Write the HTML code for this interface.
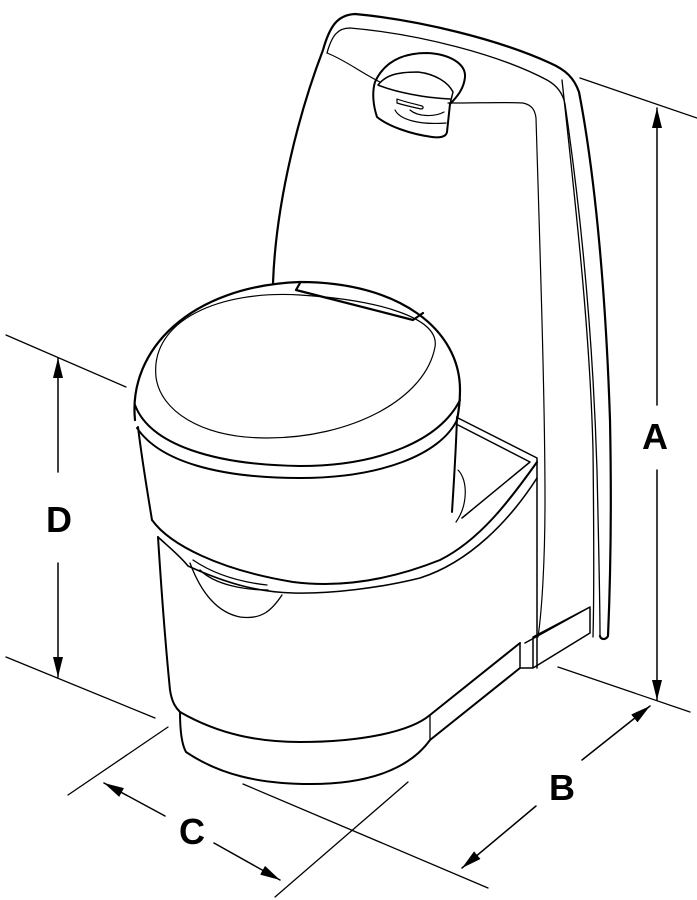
<!DOCTYPE html>
<html><head><meta charset="utf-8"><style>
html,body{margin:0;padding:0;background:#fff;}
svg{display:block;}
text{font-family:"Liberation Sans",sans-serif;font-weight:bold;font-size:36px;fill:#000;}
</style></head><body>
<svg width="697" height="900" viewBox="0 0 697 900" xmlns="http://www.w3.org/2000/svg">
<defs>
<marker id="ah" viewBox="0 0 20 10" refX="20" refY="5" markerWidth="20" markerHeight="10" markerUnits="userSpaceOnUse" orient="auto"><path d="M0,0 L20,5 L0,10 z" fill="#000"/></marker>
</defs>
<g fill="none" stroke="#000" stroke-linecap="round" stroke-linejoin="round">
<path d="M273,283 C276,200 300,110 323,50 C330,25 338,15 355,14 C420,20 500,40 550,63 C566,70 574,78 579,92 C596,180 606,300 610,420 C612,520 610,590 608,636 C606,640 601,640 600,636" stroke-width="2.2"/>
<path d="M327,53 C332,35 338,28 350,28 C420,34 500,55 547,80 C558,86 563,94 565,104 C582,220 593,340 597,470 C599,560 600,600 600,636" stroke-width="1.3"/>
<path d="M562,80 C575,200 590,330 593,450 C594,540 594,600 593,637" stroke-width="1.3"/>
<path d="M327,53 C345,60 360,72 380,82 M448,103 C480,103 505,102 523,103 C532,105 535,110 536,118 C540,250 545,400 545,500 C545,560 542,610 538,637" stroke-width="1.2"/>
<path d="M375,82 C385,60 405,53 427,53 C450,54 466,64 465,77 C464,88 458,96 450,104 L447,132 C446,137 440,138 432,137 C410,134 388,126 377,117 C373,105 372,92 375,82 z" stroke-width="2"/>
<path d="M378,85 C385,76 395,72 418,72 C435,74 448,82 453,92 L450,104 M378,85 C395,92 425,98 450,99" stroke-width="1.5"/>
<path d="M397,99 C405,102 415,104 422,106 C424,107 423,109 421,109 C412,107 403,105 397,103 z" stroke-width="1.2"/>
<path d="M395,110 C400,120 420,125 446,123 M410,110 C418,117 435,117 444,112" stroke-width="1.2"/>
<path d="M458,418 L537,458 L537,668 M458,425 L530,462 L462,518" stroke-width="1.5"/>
<path d="M458,470 C468,480 468,505 456,522" stroke-width="1.2"/>
<path d="M520,643 L520,668 L533,668 L533,637 L590,607 L590,633 L533,668 M525,643 L590,607" stroke-width="1.5"/>
<path d="M158,537 C162,600 166,650 170,690 C172,703 176,708 180,712 C220,735 260,742 300,742 C360,742 410,732 430,715 L520,643" stroke-width="2"/>
<path d="M180,712 C180,730 182,745 186,752 C220,775 260,784 311,784 C370,784 410,768 430,740 L520,668" stroke-width="2"/>
<path d="M430,715 L430,740" stroke-width="1.3"/>
<path d="M152,520 C170,545 220,570 293,582 C340,588 390,580 440,560 C480,540 510,500 537,462" stroke-width="2"/>
<path d="M158,537 C170,548 180,556 188,566 C230,585 260,592 293,593 C330,594 380,588 420,578 C470,562 510,520 537,478" stroke-width="1.6"/>
<path d="M190,563 C200,590 215,612 240,617 C262,620 272,610 282,595 M193,560 C215,575 240,582 267,585 M200,570 C215,585 245,590 268,590" stroke-width="1.3"/>
<path d="M138,427 C142,460 147,490 152,520 M457,417 C456,450 454,480 452,512" stroke-width="2"/>
<path d="M135,420 C128,350 190,286 300,282 C400,282 460,330 460,390 C460,405 458,415 457,420" stroke-width="2.2"/>
<path d="M135,405 C150,445 215,465 300,466 C380,466 440,440 460,400" stroke-width="2"/>
<path d="M137,428 C160,462 220,478 300,478 C380,478 440,455 457,420" stroke-width="2"/>
<path d="M156,377 C150,320 220,290 300,295 C380,300 440,318 435,347 C425,400 350,438 267,438 C200,438 160,410 156,377 z" stroke-width="1.2"/>
<path d="M300,283 L296,290 L413,320 L423,313" stroke-width="2.2"/>
<g stroke-width="1.3">
<line x1="580" y1="78" x2="697" y2="118"/>
<line x1="558" y1="667" x2="690" y2="712"/>
<line x1="6" y1="335" x2="126" y2="387"/>
<line x1="6" y1="657" x2="155" y2="718"/>
<line x1="168" y1="727" x2="68" y2="795"/>
<line x1="243" y1="784" x2="488" y2="888"/>
<line x1="408" y1="782" x2="275" y2="897"/>
</g>
<g stroke-width="1.5">
<line x1="657" y1="405" x2="657" y2="108" marker-end="url(#ah)"/>
<line x1="657" y1="470" x2="657" y2="700" marker-end="url(#ah)"/>
<line x1="58" y1="472" x2="58" y2="358" marker-end="url(#ah)"/>
<line x1="58" y1="563" x2="58" y2="677" marker-end="url(#ah)"/>
<line x1="165" y1="816" x2="104" y2="783" marker-end="url(#ah)"/>
<line x1="214" y1="843" x2="280" y2="880" marker-end="url(#ah)"/>
<line x1="582" y1="760" x2="650" y2="706" marker-end="url(#ah)"/>
<line x1="536" y1="806" x2="462" y2="868" marker-end="url(#ah)"/>
</g>
</g>
<text x="655" y="449" text-anchor="middle">A</text>
<text x="59" y="532" text-anchor="middle">D</text>
<text x="192" y="844" text-anchor="middle">C</text>
<text x="562" y="800" text-anchor="middle">B</text>
</svg>
</body></html>
